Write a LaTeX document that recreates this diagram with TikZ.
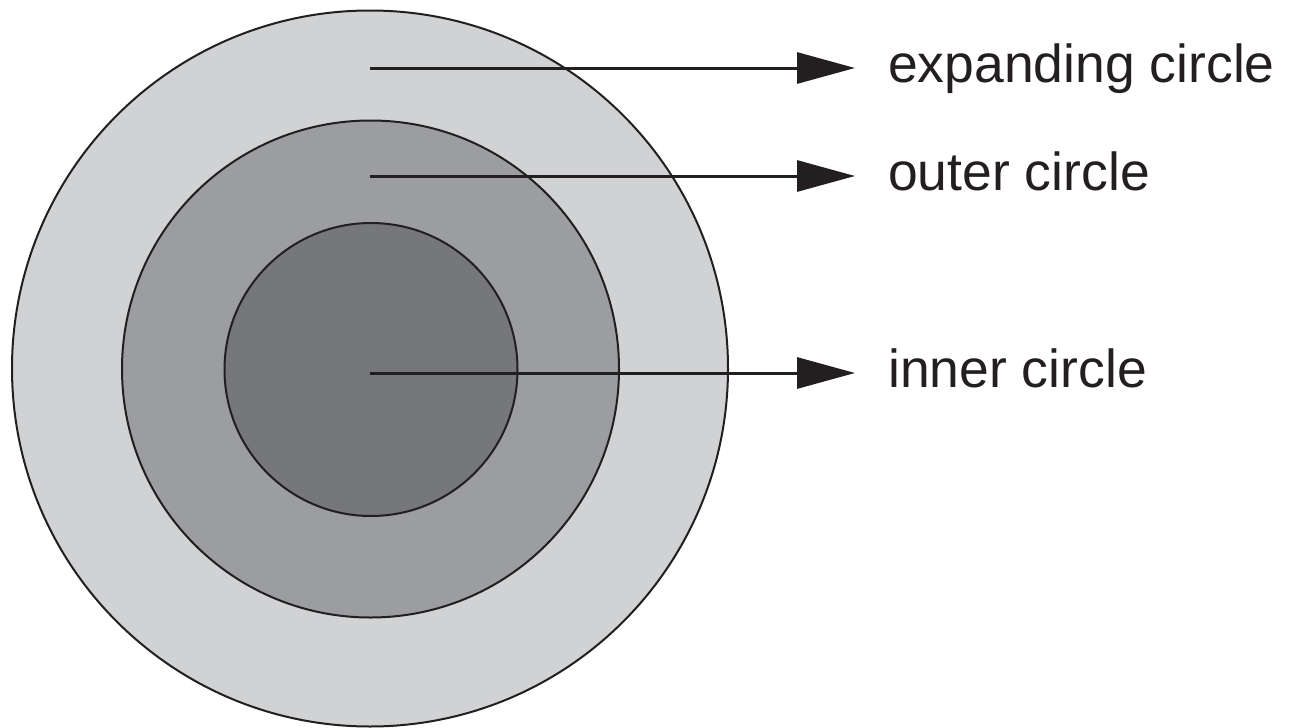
\documentclass[tikz,border=0pt]{standalone}
\usepackage{fontspec}
\setmainfont{Liberation Sans}
\usetikzlibrary{arrows.meta}
\definecolor{ringA}{HTML}{D1D2D4}
\definecolor{ringB}{HTML}{9C9DA0}
\definecolor{ringC}{HTML}{76777A}
\definecolor{ink}{HTML}{231F20}
\begin{document}
\begin{tikzpicture}[x=1pt,y=-1pt,
  ring/.style={circle,draw=ink,line width=2pt,inner sep=0pt},
  pointer/.style={draw=ink,line width=3pt,-{Triangle[length=58pt,width=31pt]}},
  lbl/.style={anchor=base west,inner sep=0pt,text=ink,font=\fontsize{53.5}{60}\selectfont}]
\useasboundingbox (0,0) rectangle (1291,728);
\node[ring,fill=ringA,minimum size=716pt] (outer) at (370,368.5) {};
\node[ring,fill=ringB,minimum size=497pt] (middle) at (370.5,369) {};
\node[ring,fill=ringC,minimum size=293pt] (inner) at (371,369.5) {};
\coordinate (s1) at (370,68);
\coordinate (s2) at (370,176);
\coordinate (s3) at (370,373);
\coordinate (e1) at (855,68);
\coordinate (e2) at (855,176);
\coordinate (e3) at (855,373);
\node[lbl] (l1) at (888,82.5) {expanding circle};
\node[lbl] (l2) at (888,190.5) {outer circle};
\node[lbl] (l3) at (888,387.5) {inner circle};
\draw[pointer] (s1) -- (e1);
\draw[pointer] (s2) -- (e2);
\draw[pointer] (s3) -- (e3);
\end{tikzpicture}
\end{document}
